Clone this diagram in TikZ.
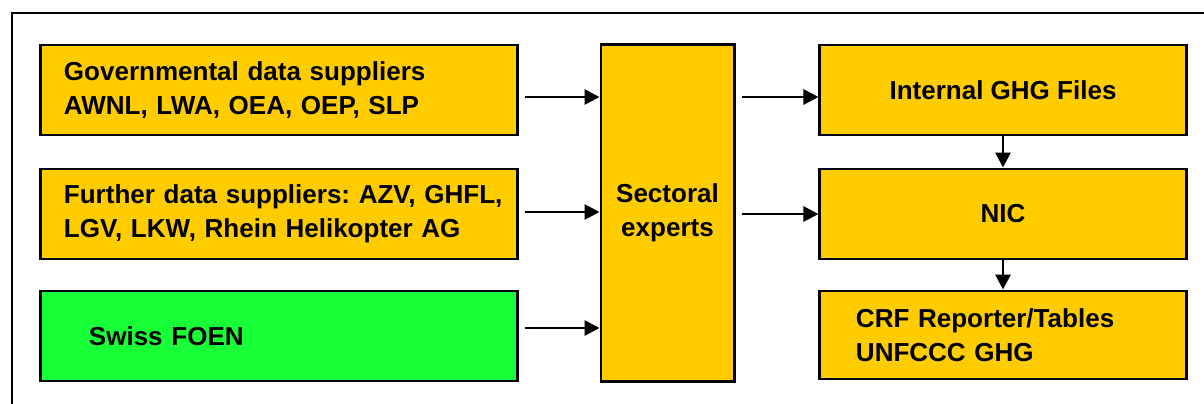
\documentclass[tikz,border=0pt]{standalone}
\usepackage{fontspec}
\setmainfont{Liberation Sans}
\usepackage{xcolor}
\usepackage{tikz}
\usetikzlibrary{arrows.meta, calc}
\frenchspacing
\definecolor{boxyellow}{RGB}{255,204,0}
\definecolor{boxgreen}{RGB}{25,255,55}
\tikzset{->, >={Triangle[length=0.375cm, width=0.375cm]},
  font=\fontsize{18.5}{24.5}\selectfont\bfseries}
\tikzset{box/.style={shape=rectangle, draw, line width=2.1pt, fill=boxyellow,
    minimum width=11.9cm, minimum height=2.25cm, inner ysep=0pt},
  leftbox/.style={box, align=left, inner xsep=0.575cm, text width=10.75cm},
  link/.style={line width=2pt, shorten <=0.15cm}}

\begin{document}
\begin{tikzpicture}[x=0.025cm, y=-0.025cm]
      \useasboundingbox (0,0) rectangle (1204,403);
      \draw[-, line width=2.1pt] (1210,13) -- (12,13) -- (12,410);
      % suppliers
      \node[leftbox] (gov) at (279,90) {Governmental data suppliers\\AWNL, LWA, OEA, OEP, SLP};
      \node[leftbox] (further) at (279,214) {\mbox{Further data suppliers: AZV, GHFL,}\\LGV, LKW, Rhein Helikopter AG};
      \node[box, fill=boxgreen, align=left, inner xsep=1.2cm, text width=9.5cm]
      (foen) at (279,336) {Swiss FOEN};
      \node[box, minimum width=3.325cm, minimum height=8.4cm, align=center]
      (sect) at (667.5,213) {Sectoral\\experts};
      % outputs
      \node[box, minimum width=9.15cm] (files) at (1003,90) {Internal GHG Files};
      \node[box, minimum width=9.15cm] (nic) at (1003,214) {NIC};
      \node[box, minimum width=9.15cm, minimum height=2.2cm, align=left,
      inner xsep=0.9cm, text width=7.35cm] (crf) at (1003,335) {CRF Reporter/Tables\\UNFCCC GHG};
      %%%%%%%%%
      \draw[link] ([yshift=-0.175cm]gov.east) coordinate (g) -- (g -| sect.west);
      \draw[link] ([yshift=0.05cm]further.east) coordinate (f) -- (f -| sect.west);
      \draw[link] ([yshift=0.2cm]foen.east) coordinate (s) -- (s -| sect.west);
      \draw[link] (sect.east |- g) -- ([yshift=-0.175cm]files.west);
      \draw[link] (sect.east |- nic.west) -- (nic.west);
      \draw[link, shorten <=0pt] (files.south) -- (nic.north);
      \draw[link, shorten <=0pt] (nic.south) -- (crf.north);
    \end{tikzpicture}
\end{document}
